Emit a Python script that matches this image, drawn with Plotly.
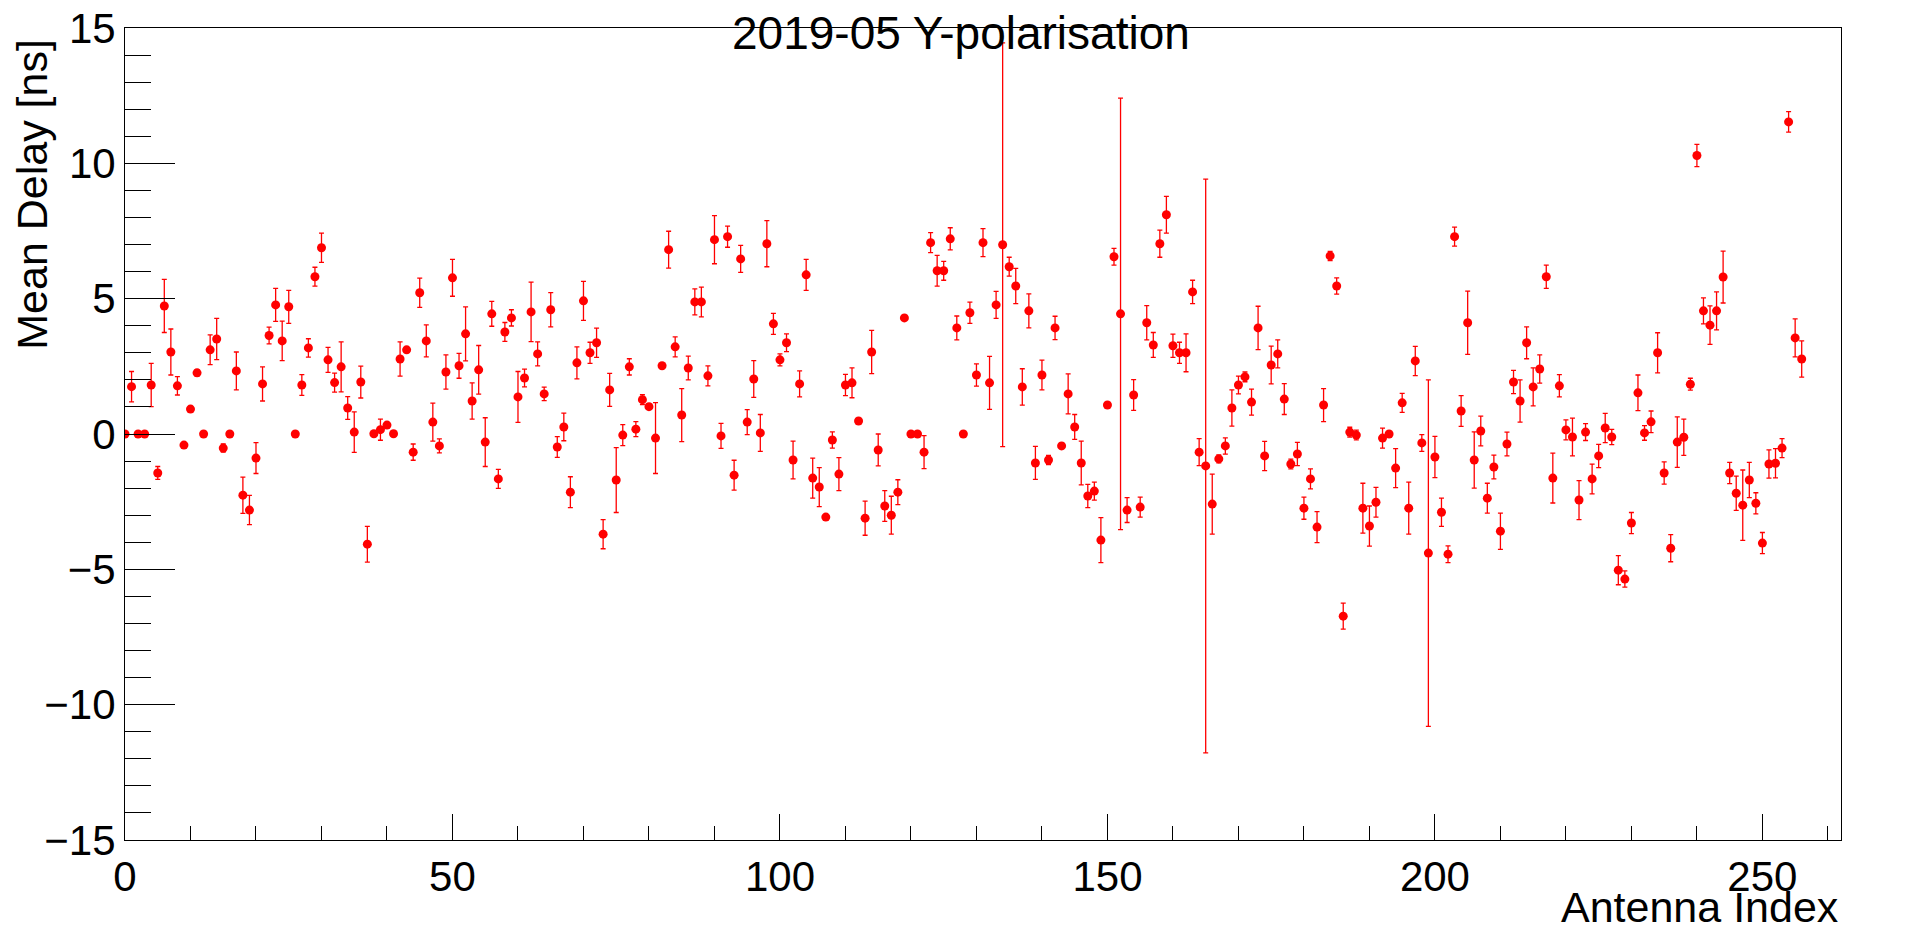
# Mean delay per antenna, 2019-05 Y polarisation (ROOT style TGraphErrors look)
import plotly.graph_objects as go

# antenna index 0..256
antenna = list(range(257))

mean_delay = [
	0, 1.75, 0, 0, 1.81, -1.44, 4.73, 3.03, 1.78, -0.41,
	0.92, 2.26, 0, 3.11, 3.51, -0.52, 0, 2.33, -2.26, -2.81,
	-0.89, 1.85, 3.64, 4.77, 3.44, 4.70, 0, 1.81, 3.18, 5.81,
	6.88, 2.74, 1.90, 2.48, 0.96, 0.07, 1.92, -4.07, 0.01, 0.16,
	0.33, 0.01, 2.77, 3.11, -0.67, 5.22, 3.44, 0.44, -0.44, 2.29,
	5.77, 2.52, 3.70, 1.22, 2.37, -0.30, 4.44, -1.66, 3.77, 4.29,
	1.37, 2.07, 4.51, 2.96, 1.48, 4.59, -0.48, 0.26, -2.15, 2.63,
	4.92, 3.00, 3.37, -3.70, 1.63, -1.70, -0.04, 2.48, 0.18, 1.27,
	1.01, -0.15, 2.52, 6.81, 3.22, 0.70, 2.44, 4.88, 4.88, 2.15,
	7.18, -0.07, 7.29, -1.52, 6.47, 0.44, 2.03, 0.04, 7.03, 4.07,
	2.74, 3.37, -0.96, 1.85, 5.88, -1.63, -1.96, -3.07, -0.22, -1.48,
	1.81, 1.89, 0.48, -3.11, 3.03, -0.59, -2.66, -3.00, -2.15, 4.29,
	0, 0, -0.67, 7.07, 6.03, 6.03, 7.21, 3.92, 0, 4.48,
	2.18, 7.07, 1.89, 4.77, 6.99, 6.18, 5.47, 1.74, 4.55, -1.07,
	2.18, -0.96, 3.92, -0.44, 1.48, 0.26, -1.07, -2.29, -2.11, -3.92,
	1.07, 6.55, 4.44, -2.81, 1.44, -2.70, 4.11, 3.29, 7.03, 8.10,
	3.26, 3.00, 3.00, 5.25, -0.67, -1.18, -2.59, -0.92, -0.44, 0.96,
	1.81, 2.11, 1.18, 3.92, -0.81, 2.55, 2.96, 1.29, -1.11, -0.74,
	-2.74, -1.66, -3.44, 1.07, 6.58, 5.47, -6.73, 0.07, -0.04, -2.74,
	-3.40, -2.52, -0.15, 0.00, -1.26, 1.15, -2.74, 2.70, -0.33, -4.40,
	-0.85, -2.89, -4.44, 7.29, 0.85, 4.11, -0.96, 0.11, -2.37, -1.22,
	-3.59, -0.37, 1.92, 1.22, 3.37, 1.74, 2.40, 5.81, -1.63, 1.78,
	0.15, -0.11, -2.44, 0.07, -1.66, -0.81, 0.22, -0.11, -5.03, -5.36,
	-3.29, 1.52, 0.04, 0.45, 3.00, -1.44, -4.22, -0.30, -0.12, 1.84,
	10.29, 4.55, 4.02, 4.55, 5.80, -1.44, -2.19, -2.63, -1.70, -2.56,
	-4.03, -1.11, -1.08, -0.52, 11.53, 3.55, 2.77,
]

delay_err = [
	0, 0.56, 0, 0, 0.80, 0.24, 0.98, 0.85, 0.34, 0.08,
	0.10, 0.12, 0, 0.55, 0.76, 0.15, 0, 0.70, 0.67, 0.54,
	0.57, 0.63, 0.31, 0.61, 0.73, 0.61, 0, 0.38, 0.34, 0.35,
	0.54, 0.46, 0.35, 0.92, 0.42, 0.75, 0.59, 0.66, 0.05, 0.39,
	0.08, 0.05, 0.63, 0.08, 0.30, 0.54, 0.59, 0.70, 0.26, 0.63,
	0.68, 0.46, 1.00, 0.67, 0.90, 0.90, 0.46, 0.35, 0.35, 0.30,
	0.94, 0.33, 1.10, 0.44, 0.25, 0.63, 0.38, 0.51, 0.57, 0.59,
	0.72, 0.39, 0.54, 0.54, 0.61, 1.20, 0.39, 0.30, 0.28, 0.18,
	0.10, 1.31, 0.08, 0.68, 0.37, 0.98, 0.44, 0.48, 0.55, 0.37,
	0.89, 0.46, 0.39, 0.55, 0.50, 0.46, 0.68, 0.68, 0.85, 0.39,
	0.22, 0.33, 0.70, 0.48, 0.57, 0.74, 0.72, 0.08, 0.30, 0.61,
	0.39, 0.55, 0.08, 0.63, 0.80, 0.59, 0.57, 0.70, 0.46, 0.08,
	0, 0, 0.61, 0.37, 0.57, 0.35, 0.41, 0.44, 0, 0.39,
	0.41, 0.52, 0.98, 0.50, 7.46, 0.35, 0.65, 0.67, 0.63, 0.61,
	0.55, 0.17, 0.43, 0.10, 0.74, 0.46, 0.81, 0.43, 0.33, 0.83,
	0.08, 0.31, 7.97, 0.46, 0.57, 0.37, 0.63, 0.46, 0.50, 0.68,
	0.43, 0.39, 0.70, 0.43, 0.50, 10.60, 1.11, 0.15, 0.30, 0.67,
	0.33, 0.18, 0.48, 0.80, 0.54, 0.70, 0.52, 0.57, 0.18, 0.43,
	0.41, 0.37, 0.57, 0.61, 0.17, 0.30, 0.48, 0.18, 0.18, 0.92,
	0.74, 0.55, 0.37, 0.08, 0.72, 0.35, 0.96, 0.54, 0.31, 6.40,
	0.76, 0.52, 0.31, 0.35, 0.57, 1.17, 1.04, 0.55, 0.55, 0.44,
	0.67, 0.44, 0.43, 0.78, 0.59, 0.70, 0.52, 0.43, 0.92, 0.41,
	0.37, 0.70, 0.72, 0.31, 0.55, 0.43, 0.54, 0.28, 0.54, 0.30,
	0.39, 0.66, 0.27, 0.40, 0.74, 0.41, 0.50, 0.93, 0.67, 0.22,
	0.41, 0.48, 0.71, 0.70, 0.96, 0.39, 0.63, 1.30, 0.65, 0.39,
	0.39, 0.52, 0.54, 0.35, 0.38, 0.70, 0.67,
]

FONT = 'Liberation Sans, Arial, Helvetica, sans-serif'

fig = go.Figure(go.Scatter(
	x=antenna,
	y=mean_delay,
	mode='markers',
	marker=dict(color='#ff0000', size=9, symbol='circle'),
	error_y=dict(type='data', array=delay_err, visible=True,
				 color='#ff0000', thickness=1.3, width=2.5),
	showlegend=False,
))

axis_common = dict(
	showline=True, linecolor='black', linewidth=1, mirror=True,
	showgrid=False, zeroline=False,
	ticks='inside', tickcolor='black', tickwidth=1,
	tickfont=dict(family=FONT, size=42, color='black'),
	ticklabeloverflow='allow', automargin=False,
)

fig.update_xaxes(
	range=[0, 262], tick0=0, dtick=50, ticklen=26,
	minor=dict(dtick=10, ticklen=14, ticks='inside', tickcolor='black', tickwidth=1),
	**axis_common
)
fig.update_yaxes(
	range=[-15, 15], tick0=-15, dtick=5, ticklen=50,
	minor=dict(dtick=1, ticklen=26, ticks='inside', tickcolor='black', tickwidth=1),
	**axis_common
)

# page body keeps its 8px margin, so the figure is 16px smaller than the window
fig.update_layout(
	width=1902, height=918,
	margin=dict(l=117, r=69, t=20, b=86, autoexpand=False),
	paper_bgcolor='white', plot_bgcolor='white',
	font=dict(family=FONT, color='black'),
	annotations=[
		# title sits on the top frame line like ROOT does
		dict(text='2019-05 Y-polarisation', xref='paper', yref='paper',
			 x=0.487, y=0.994, xanchor='center', yanchor='middle',
			 showarrow=False, font=dict(family=FONT, size=46, color='black')),
		# axis titles aligned to the axis ends
		dict(text='Mean Delay [ns]', xref='paper', yref='paper',
			 x=-0.054, y=0.989, xanchor='center', yanchor='top', textangle=-90,
			 showarrow=False, font=dict(family=FONT, size=43, color='black')),
		dict(text='Antenna Index', xref='paper', yref='paper',
			 x=1.0, y=-0.051, xanchor='right', yanchor='top',
			 showarrow=False, font=dict(family=FONT, size=43, color='black')),
	],
)

fig.write_html('out.html', config={'displayModeBar': False})
